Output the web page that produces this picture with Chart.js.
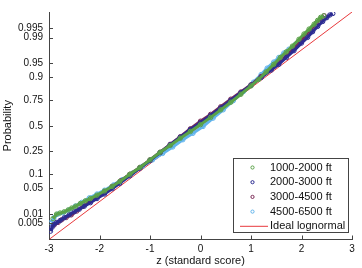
<!DOCTYPE html>
<html>
<head>
<meta charset="utf-8">
<script src="https://cdn.jsdelivr.net/npm/chart.js@4.4.1/dist/chart.umd.min.js"></script>
<style>
  html, body { margin: 0; padding: 0; background: #fff; }
  #wrap { width: 362px; height: 268px; }
</style>
</head>
<body>
<div id="wrap"><canvas id="chart" width="362" height="268"></canvas></div>
<script>
// probability ticks on the normal-quantile axis
const probTicks = [0.005, 0.01, 0.05, 0.1, 0.25, 0.5, 0.75, 0.9, 0.95, 0.99, 0.995];
const zTicks = [-3, -2, -1, 0, 1, 2, 3];

const seriesNames = ['1000-2000 ft', '2000-3000 ft', '3000-4500 ft', '4500-6500 ft'];
const seriesColors = ['#5aa248', '#2c2c92', '#7b2a56', '#62b4ec'];

// x = standard score, y = normal quantile of the plotting probability
const x1000 = [-2.92,-2.85,-2.78,-2.7,-2.62,-2.55,-2.47,-2.38,-2.28,-2.18,-2.05,-1.9,-1.75,-1.6,-1.4,-1.2,-1.0,-0.8,-0.6,-0.4,-0.2,0,0.2,0.4,0.6,0.8,1.0,1.15,1.3,1.45,1.58,1.7,1.82,1.95,2.05,2.15,2.25,2.32,2.38,2.44];
const y1000 = [-2.45,-2.33,-2.3,-2.27,-2.22,-2.17,-2.12,-2.05,-1.98,-1.92,-1.83,-1.72,-1.6,-1.47,-1.28,-1.1,-0.9,-0.7,-0.52,-0.33,-0.15,0.03,0.22,0.42,0.62,0.83,1.05,1.22,1.42,1.62,1.8,1.95,2.1,2.28,2.42,2.55,2.68,2.78,2.86,2.9];

const x2000 = [-2.97,-2.94,-2.9,-2.85,-2.78,-2.7,-2.6,-2.5,-2.4,-2.3,-2.18,-2.05,-1.9,-1.75,-1.6,-1.4,-1.2,-1.0,-0.8,-0.6,-0.4,-0.2,0,0.2,0.4,0.6,0.8,1.0,1.2,1.4,1.55,1.7,1.85,2.0,2.12,2.22,2.32,2.42,2.5,2.56,2.62];
const y2000 = [-2.78,-2.68,-2.6,-2.55,-2.5,-2.43,-2.35,-2.27,-2.2,-2.12,-2.03,-1.92,-1.8,-1.66,-1.52,-1.32,-1.12,-0.92,-0.71,-0.5,-0.3,-0.1,0.08,0.27,0.47,0.67,0.87,1.07,1.27,1.47,1.62,1.8,1.98,2.18,2.33,2.48,2.62,2.75,2.85,2.92,2.96];

const x3000 = [-2.9,-2.82,-2.75,-2.66,-2.56,-2.45,-2.33,-2.2,-2.05,-1.9,-1.75,-1.58,-1.4,-1.2,-1.0,-0.8,-0.6,-0.4,-0.2,0,0.2,0.4,0.6,0.8,1.0,1.2,1.4,1.55,1.7,1.85,2.0,2.12,2.22,2.3,2.38,2.45];
const y3000 = [-2.62,-2.55,-2.48,-2.42,-2.35,-2.25,-2.13,-2.0,-1.87,-1.74,-1.6,-1.45,-1.28,-1.1,-0.9,-0.7,-0.49,-0.29,-0.08,0.12,0.3,0.5,0.7,0.89,1.08,1.3,1.5,1.66,1.85,2.03,2.25,2.45,2.6,2.72,2.82,2.9];

const x4500 = [-2.96,-2.9,-2.82,-2.72,-2.6,-2.48,-2.35,-2.2,-2.05,-1.9,-1.72,-1.55,-1.35,-1.15,-0.95,-0.75,-0.55,-0.35,-0.15,0.05,0.25,0.45,0.65,0.85,1.05,1.2,1.32,1.45,1.55,1.65,1.75,1.88,2.0,2.1,2.2];
const y4500 = [-2.55,-2.42,-2.33,-2.3,-2.22,-2.12,-2.02,-1.9,-1.8,-1.7,-1.56,-1.42,-1.25,-1.07,-0.9,-0.73,-0.56,-0.37,-0.2,-0.02,0.2,0.42,0.66,0.9,1.15,1.35,1.52,1.68,1.8,1.92,2.02,2.15,2.28,2.4,2.52];

const idealX = [-3, 3];
const idealY = [-3, 3];

// inverse normal cdf (Acklam), used to place the probability ticks
function probit(p) {
  const a = [-3.969683028665376e+01, 2.209460984245205e+02, -2.759285104469687e+02, 1.383577518672690e+02, -3.066479806614716e+01, 2.506628277459239e+00];
  const b = [-5.447609879822406e+01, 1.615858368580409e+02, -1.556989798598866e+02, 6.680131188771972e+01, -1.328068155288572e+01];
  const c = [-7.784894002430293e-03, -3.223964580411365e-01, -2.400758277161838e+00, -2.549732516405357e+00, 4.374664141464968e+00, 2.938163982698783e+00];
  const d = [7.784695709041462e-03, 3.224671290700398e-01, 2.445134137142996e+00, 3.754408661907416e+00];
  const plow = 0.02425;
  let q, r;
  if (p < plow) {
    q = Math.sqrt(-2 * Math.log(p));
    return (((((c[0]*q+c[1])*q+c[2])*q+c[3])*q+c[4])*q+c[5]) / ((((d[0]*q+d[1])*q+d[2])*q+d[3])*q+1);
  }
  if (p <= 1 - plow) {
    q = p - 0.5; r = q * q;
    return (((((a[0]*r+a[1])*r+a[2])*r+a[3])*r+a[4])*r+a[5])*q / (((((b[0]*r+b[1])*r+b[2])*r+b[3])*r+b[4])*r+1);
  }
  q = Math.sqrt(-2 * Math.log(1 - p));
  return -(((((c[0]*q+c[1])*q+c[2])*q+c[3])*q+c[4])*q+c[5]) / ((((d[0]*q+d[1])*q+d[2])*q+d[3])*q+1);
}

const pts = (xs, ys) => xs.map((x, i) => ({ x: x, y: ys[i] }));
const seriesX = [x1000, x2000, x3000, x4500];
const seriesY = [y1000, y2000, y3000, y4500];

const datasets = seriesNames.map((name, i) => ({
  label: name,
  data: pts(seriesX[i], seriesY[i]),
  showLine: true,
  borderColor: seriesColors[i],
  borderWidth: 3,
  pointRadius: 2.2,
  pointBorderWidth: 1,
  pointBorderColor: seriesColors[i],
  pointBackgroundColor: 'rgba(0,0,0,0)',
  tension: 0
}));
datasets.push({
  label: 'Ideal lognormal',
  data: pts(idealX, idealY),
  showLine: true,
  borderColor: '#e8393c',
  borderWidth: 1,
  pointRadius: 0
});

const FONT = 'Liberation Sans, Arial, sans-serif';

// inward tick marks like the original figure
const innerTicks = {
  id: 'innerTicks',
  afterDraw(chart) {
    const ctx = chart.ctx;
    const xs = chart.scales.x, ys = chart.scales.y;
    ctx.save();
    ctx.strokeStyle = '#444';
    ctx.lineWidth = 1;
    ctx.beginPath();
    xs.ticks.forEach(t => {
      const px = Math.round(xs.getPixelForValue(t.value)) + 0.5;
      ctx.moveTo(px, xs.top);
      ctx.lineTo(px, xs.top - 4);
    });
    ys.ticks.forEach(t => {
      const py = Math.round(ys.getPixelForValue(t.value)) + 0.5;
      ctx.moveTo(ys.right, py);
      ctx.lineTo(ys.right + 4, py);
    });
    ctx.stroke();
    ctx.restore();
  }
};

// legend box drawn inside the plot area
const boxLegend = {
  id: 'boxLegend',
  afterDraw(chart) {
    const ctx = chart.ctx;
    const left = 233, top = 158, w = 115, h = 74;
    ctx.save();
    ctx.fillStyle = '#fff';
    ctx.fillRect(left, top, w, h);
    ctx.strokeStyle = '#444';
    ctx.lineWidth = 1;
    ctx.strokeRect(left + 0.5, top + 0.5, w, h);
    ctx.font = '11px ' + FONT;
    ctx.textBaseline = 'middle';
    chart.data.datasets.forEach((ds, i) => {
      const y = top + 9.5 + i * 14.7;
      if (ds.pointRadius) {
        ctx.beginPath();
        ctx.arc(252.5, y, 1.6, 0, Math.PI * 2);
        ctx.strokeStyle = ds.borderColor;
        ctx.stroke();
      } else {
        ctx.beginPath();
        ctx.moveTo(240, y);
        ctx.lineTo(268, y);
        ctx.strokeStyle = ds.borderColor;
        ctx.stroke();
      }
      ctx.fillStyle = '#111';
      ctx.fillText(ds.label, 270, y);
    });
    ctx.restore();
  }
};

new Chart(document.getElementById('chart'), {
  type: 'scatter',
  data: { datasets: datasets },
  options: {
    responsive: false,
    devicePixelRatio: 1,
    animation: false,
    layout: { padding: { left: 0, right: 10, top: 1, bottom: 0 } },
    plugins: {
      legend: { display: false },
      tooltip: { enabled: false }
    },
    scales: {
      x: {
        type: 'linear',
        min: -3, max: 3,
        afterBuildTicks: s => { s.ticks = zTicks.map(v => ({ value: v })); },
        grid: { display: false, drawTicks: false, tickLength: 0 },
        border: { display: true, color: '#444', width: 1 },
        ticks: { color: '#111', font: { family: FONT, size: 10, lineHeight: 1 }, padding: 4.5, maxRotation: 0 },
        title: { display: true, text: 'z (standard score)', color: '#111',
                 font: { family: FONT, size: 11, lineHeight: 9.5 / 11 }, padding: { top: -2.25, bottom: 2.25 } }
      },
      y: {
        type: 'linear',
        min: -3, max: 3,
        afterBuildTicks: s => { s.ticks = probTicks.map(p => ({ value: probit(p) })); },
        afterFit: s => { s.width = 49; },
        grid: { display: false, drawTicks: false, tickLength: 0 },
        border: { display: true, color: '#444', width: 1 },
        ticks: {
          autoSkip: false,
          color: '#111',
          font: { family: FONT, size: 10 },
          padding: 6,
          callback: (v, i) => String(probTicks[i])
        },
        title: { display: true, text: 'Probability', color: '#111',
                 font: { family: FONT, size: 11 }, padding: { top: 1.5, bottom: 0 } }
      }
    }
  },
  plugins: [innerTicks, boxLegend]
});
</script>
</body>
</html>
